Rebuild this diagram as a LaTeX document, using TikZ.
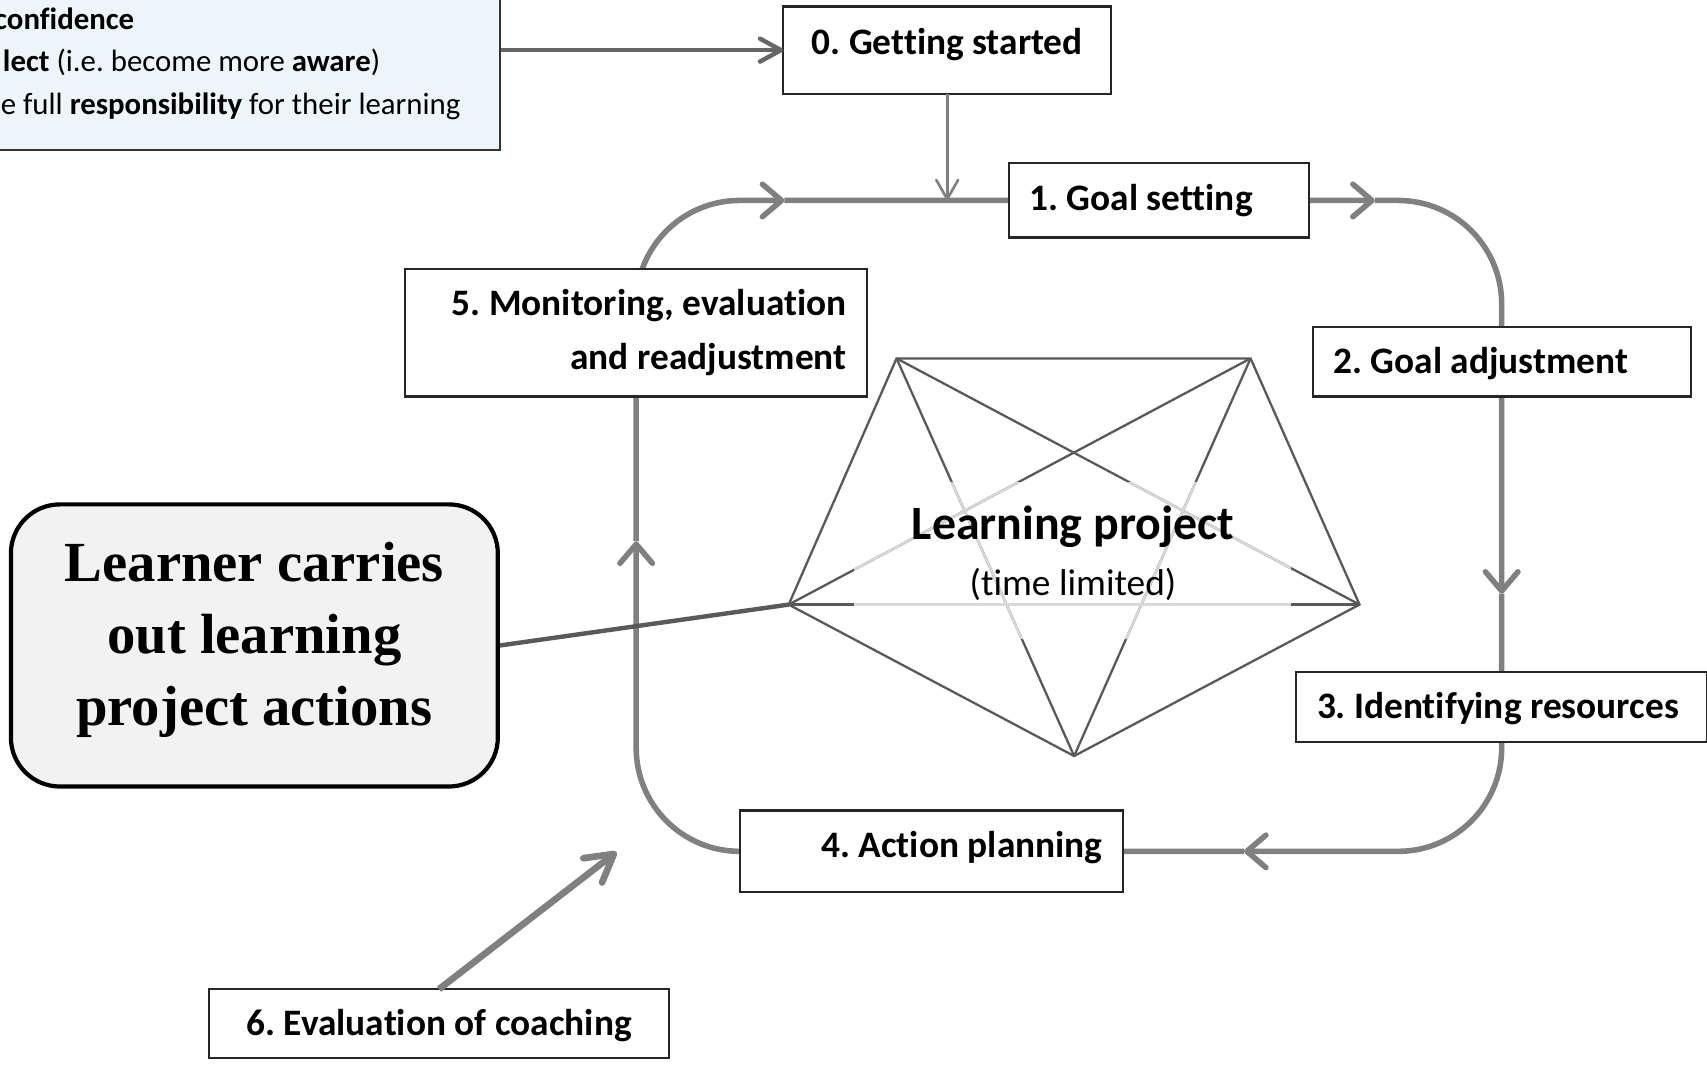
\documentclass[tikz,border=0pt]{standalone}
\usepackage{fontspec}
\setmainfont{Carlito}[Ligatures=NoCommon]
\newfontfamily\learnerserif{Liberation Serif}
\usepackage{xcolor}
\usepackage{tikz}
\usetikzlibrary{arrows.meta,backgrounds}
\frenchspacing

\definecolor{loopgray}{HTML}{808080}
\definecolor{darkline}{HTML}{595959}
\definecolor{lightline}{HTML}{D9D9D9}
\definecolor{infofill}{HTML}{EEF5F8}
\definecolor{learnerfill}{HTML}{F2F2F2}
\newcommand\stagefont{\fontsize{9.76}{13.9}\selectfont\bfseries}
\newcommand\infofont{\fontsize{8.05}{11.2}\selectfont}

\tikzset{
  stagebox/.style={draw=black!85, line width=0.55pt, fill=white, inner xsep=1.9mm,
    inner ysep=0pt, outer sep=0pt, anchor=north west, font=\stagefont},
  loopline/.style={draw=loopgray, line width=1.45pt},
  looptip/.style={-{Straight Barb[round,length=5pt,width=8.5pt]}},
  penline/.style={draw=darkline, line width=0.6pt},
}

\begin{document}
\begin{tikzpicture}[x=0.1mm,y=-0.1mm]
  \useasboundingbox (0,0) rectangle (1567,977.6);
  \clip (0,0) rectangle (1567,977.6);

  \node[draw=black!80, fill=infofill, line width=0.5pt, minimum width=60mm,
    minimum height=16mm, anchor=south east, inner sep=0pt] (info) at (460,138.5) {};
  \foreach \x/\y/\txt in {-6/27/{\textbf{confidence}},
      2/66/{\textbf{lect} (i.e. become more \textbf{aware})},
      0/105.5/{e full \textbf{responsibility} for their learning}} {
    \node[anchor=base west, inner sep=0pt, font=\infofont] at (\x,\y) {\txt};
  }

  \node[stagebox, text width=26.3mm, align=flush center, text height=4.4mm, text depth=3.6mm] (g0) at (719,6) {0. Getting started};
  \node[stagebox, text width=23.8mm, align=flush left, text height=4.3mm, text depth=2.5mm] (g1) at (926,150) {1. Goal setting};
  \node[stagebox, text width=30.9mm, align=flush left, text height=4.3mm, text depth=2.1mm] (g2) at (1205,300) {2. Goal adjustment};
  \node[stagebox, text width=33.9mm, align=flush left, text height=4.3mm, text depth=2.1mm] (g3) at (1190,617) {3. Identifying resources};
  \node[stagebox, text width=31.4mm, align=flush right, text height=4.3mm, text depth=3.2mm] (g4) at (679,744) {4. Action planning};
  \node[stagebox, text width=38.6mm, align=flush right, text height=4.3mm, text depth=7.4mm] (g5) at (372,247) {5. Monitoring, evaluation\\and readjustment};
  \node[stagebox, text width=38.4mm, align=flush center, text height=4.3mm, text depth=2.05mm] (g6) at (192,908) {6. Evaluation of coaching};

  \node[draw=black, line width=1.1pt, fill=learnerfill, rounded corners=4.5mm,
    minimum width=44.7mm, minimum height=25.9mm, align=center,
    font=\learnerserif\bfseries\fontsize{14.8}{18.8}\selectfont] (learner) at (233.5,592.5)
    {Learner carries\\out learning\\project actions\rule[-2.2mm]{0pt}{1mm}};

  \coordinate (p1) at (823,329);
  \coordinate (p2) at (1148,329);
  \coordinate (p3) at (1248,555);
  \coordinate (p4) at (986,694);
  \coordinate (p5) at (724,555);
  \draw[penline] (p1) -- (p2) -- (p3) -- (p4) -- (p5) -- cycle;
  \foreach \a/\b in {p1/p3,p1/p4,p2/p4,p2/p5,p5/p3} {
    \draw[penline] (\a) -- (\b);
  }
  \begin{scope}
    \clip (784,443) rectangle (1185,586);
    \foreach \a/\b in {p1/p3,p1/p4,p2/p4,p2/p5,p5/p3} {
      \draw[penline, draw=lightline] (\a) -- (\b);
    }
  \end{scope}
  \node[anchor=base, inner sep=0pt, font=\fontsize{12.5}{15}\selectfont\bfseries] (lp) at (985,495) {Learning project};
  \node[anchor=base, inner sep=0pt, font=\fontsize{9.76}{12}\selectfont] (lpnote) at (985,547) {(time limited)};

  \draw[draw=darkline, line width=1.15pt] (learner.east) -- (p5);
  \draw[draw=black!60, line width=1.15pt, -{Straight Barb[round,length=5.5pt,width=6pt]}] (info.east |- g0.west) -- (g0.west);
  \draw[draw=loopgray, line width=0.7pt, -{Straight Barb[round,length=5pt,width=5.7pt]}] (g0.south) -- (g0.south |- g1.center);
  \coordinate (c6) at (566,782);
  \draw[draw=loopgray, line width=1.75pt, -{Straight Barb[round,length=7pt,width=8pt]}] (g6.north) -- (c6);

  \coordinate (t1) at (720,184);
  \coordinate (t2) at (1262,184);
  \coordinate (t3) at (1378.5,545);
  \coordinate (t4) at (1142,781.5);
  \coordinate (t5) at (584,497);
  \begin{pgfonlayer}{background}
    \draw[loopline, looptip, rounded corners=9.5mm] (g5.center) |- (t1);
    \draw[loopline] (t1) -- (g1.center);
    \draw[loopline, looptip] (g1.center) -- (t2);
    \draw[loopline, rounded corners=9.5mm] (t2) -| (g2.center);
    \draw[loopline, looptip] (g2.center) -- (t3);
    \draw[loopline] (t3) -- (g3.center);
    \draw[loopline, looptip, rounded corners=9.5mm] (g3.center) |- (t4);
    \draw[loopline] (t4) -- (g4.center);
    \draw[loopline, looptip, rounded corners=9.5mm] (g4.center) -| (t5);
    \draw[loopline] (t5) -- (g5.center);
  \end{pgfonlayer}
\end{tikzpicture}
\end{document}
